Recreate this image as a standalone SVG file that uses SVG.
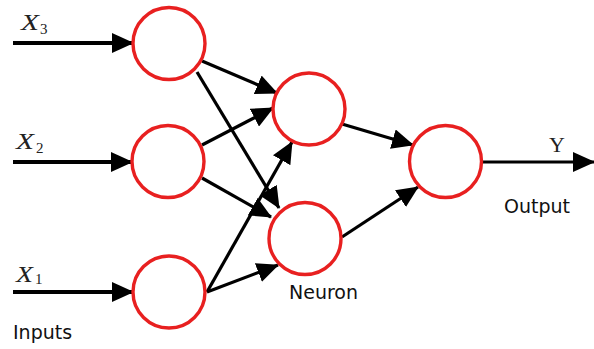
<svg xmlns="http://www.w3.org/2000/svg" width="594" height="349" viewBox="0 0 594 349">
<defs>
<marker id="ah" markerUnits="userSpaceOnUse" markerWidth="22" markerHeight="20" viewBox="0 0 22 20" refX="21" refY="10" orient="auto">
<path d="M0,0 L22,10 L0,20 z" fill="#000"/>
</marker>
</defs>
<style>
.n{fill:#fff;stroke:#e82020;stroke-width:3.4}
.c{stroke:#000;stroke-width:3.2;fill:none;marker-end:url(#ah)}
.in{stroke-width:4}
.lab{font-family:"Liberation Serif",serif;fill:#222}
.it{font-style:italic;font-size:23px}
.sub{font-size:15px}
.t{font-family:"DejaVu Sans",sans-serif;font-size:19px;fill:#111}
</style>
<rect width="594" height="349" fill="#fff"/>
<g id="connectors">
<line class="c in" x1="13" y1="43" x2="133" y2="43"/>
<line class="c in" x1="13" y1="162" x2="132" y2="162"/>
<line class="c in" x1="13" y1="292" x2="133" y2="292"/>
<line class="c" x1="202" y1="61" x2="277" y2="93"/>
<line class="c" x1="197" y1="72" x2="279" y2="208"/>
<line class="c" x1="202" y1="145" x2="273" y2="108"/>
<line class="c" x1="202" y1="178" x2="271" y2="217"/>
<line class="c" x1="207" y1="292" x2="292" y2="142"/>
<line class="c" x1="207" y1="292" x2="278" y2="265"/>
<line class="c" x1="342" y1="124" x2="413" y2="145"/>
<line class="c" x1="342" y1="237" x2="418" y2="187"/>
<line class="c" x1="482" y1="162" x2="594" y2="162"/>
</g>
<g id="in3"><circle class="n" cx="169" cy="43.5" r="36"/></g>
<g id="in2"><circle class="n" cx="168" cy="161.5" r="36"/></g>
<g id="in1"><circle class="n" cx="169" cy="292" r="36"/></g>
<g id="h1"><circle class="n" cx="309" cy="109" r="36"/></g>
<g id="h2"><circle class="n" cx="305" cy="238.5" r="36"/></g>
<g id="out"><circle class="n" cx="445.5" cy="161.5" r="36"/></g>
<g id="labels">
<text class="lab it" x="21" y="30" textLength="18" lengthAdjust="spacingAndGlyphs">X</text><text class="lab sub" x="40" y="33.5">3</text>
<text class="lab it" x="16" y="149" textLength="18" lengthAdjust="spacingAndGlyphs">X</text><text class="lab sub" x="36" y="153">2</text>
<text class="lab it" x="16" y="282" textLength="17" lengthAdjust="spacingAndGlyphs">X</text><text class="lab sub" x="35" y="284">1</text>
<text class="lab" x="549" y="152" font-size="22">Y</text>
<text class="t" x="13" y="339">Inputs</text>
<text class="t" x="289" y="299">Neuron</text>
<text class="t" x="504" y="213">Output</text>
</g>
</svg>
